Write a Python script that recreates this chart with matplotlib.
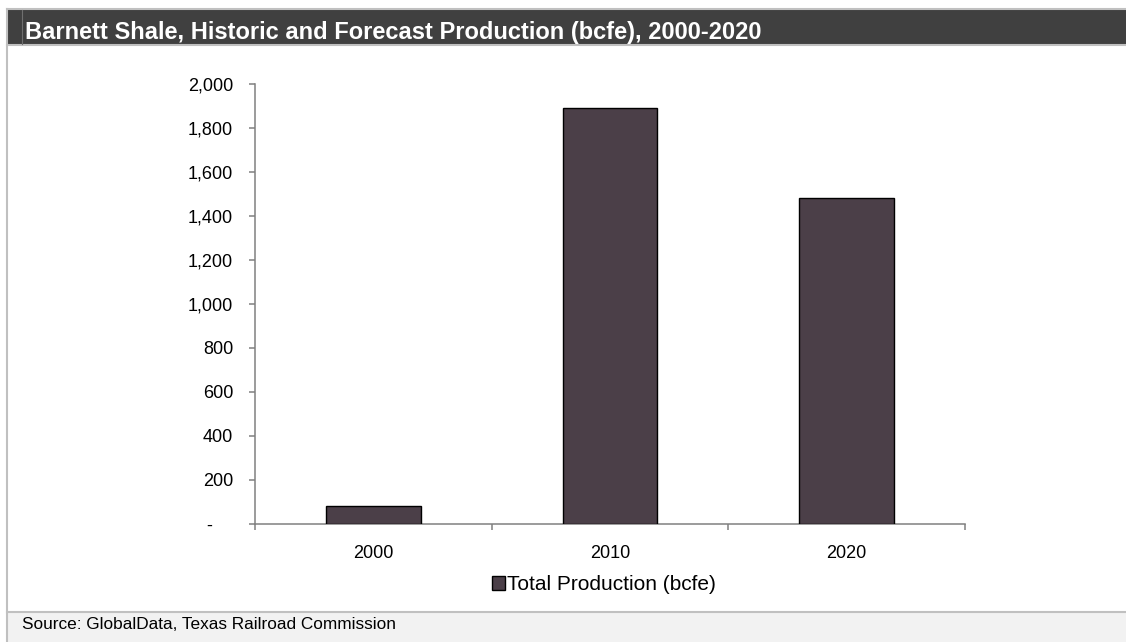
import matplotlib
matplotlib.use("Agg")
import matplotlib.pyplot as plt
import matplotlib.transforms as mtransforms
from matplotlib.patches import Rectangle
from matplotlib.lines import Line2D
from matplotlib.ticker import FuncFormatter, FixedLocator

categories = ["2000", "2010", "2020"]
values = [80, 1890, 1480]
series_name = "Total Production (bcfe)"
title = "Barnett Shale, Historic and Forecast Production (bcfe), 2000-2020"
source = "Source: GlobalData, Texas Railroad Commission"
yticks = [0, 200, 400, 600, 800, 1000, 1200, 1400, 1600, 1800, 2000]

W, H = 1126, 642
plt.rcParams['font.family'] = ['Liberation Sans', 'DejaVu Sans']
fig = plt.figure(figsize=(W / 100, H / 100), dpi=100)

def fx(x):
    return x / W

def fy(y):
    return 1 - y / H

# frame decorations
fig.add_artist(Rectangle((fx(7), fy(44)), fx(W - 7), fy(9) - fy(44),
                         transform=fig.transFigure, facecolor='#404040',
                         edgecolor='none', zorder=1))
fig.add_artist(Line2D([fx(7), 1], [fy(9), fy(9)], transform=fig.transFigure,
                      color='#c0c0c0', lw=1.5, zorder=2))
fig.add_artist(Line2D([fx(7), 1], [fy(44.5), fy(44.5)], transform=fig.transFigure,
                      color='#c0c0c0', lw=1.5, zorder=2))
fig.add_artist(Line2D([fx(22), fx(22)], [fy(10), fy(44)], transform=fig.transFigure,
                      color='#707070', lw=0.8, zorder=2))
fig.add_artist(Rectangle((fx(7), 0), fx(W - 7), fy(612.5), transform=fig.transFigure,
                         facecolor='#f2f2f2', edgecolor='none', zorder=1))
fig.add_artist(Line2D([fx(7), 1], [fy(612), fy(612)], transform=fig.transFigure,
                      color='#c0c0c0', lw=1.5, zorder=2))
fig.add_artist(Line2D([fx(7.5), fx(7.5)], [fy(9), 0], transform=fig.transFigure,
                      color='#c0c0c0', lw=1.5, zorder=2))

fig.text(fx(25), fy(39.5), title, color='white', fontsize=17, fontweight='bold',
         va='baseline', ha='left', zorder=3)
fig.text(fx(22), fy(629), source, color='black', fontsize=12.4,
         va='baseline', ha='left', zorder=3)

# axes
ax = fig.add_axes([fx(255), fy(524), fx(965) - fx(255), fy(84) - fy(524)])
ax.set_facecolor('none')
x = list(range(len(categories)))
bars = ax.bar(x, values, width=0.40, color='#4b3f48', edgecolor='black',
              linewidth=1.0, label=series_name, zorder=3)
ax.set_xlim(-0.5, len(categories) - 0.5)
ax.set_ylim(0, 2000)

for s in ['top', 'right']:
    ax.spines[s].set_visible(False)
for s in ['left', 'bottom']:
    ax.spines[s].set_color('#808080')
    ax.spines[s].set_linewidth(1.1)

ax.set_yticks(yticks)
ax.yaxis.set_major_formatter(FuncFormatter(lambda v, p: '-' if v == 0 else f"{int(v):,}"))
ax.tick_params(axis='y', direction='out', length=4.3, width=1.1, color='#808080',
               labelsize=13, pad=11.5)

ax.xaxis.set_major_locator(FixedLocator([-0.5, 0.5, 1.5, 2.5]))
ax.xaxis.set_minor_locator(FixedLocator(x))
ax.set_xticklabels([], minor=False)
ax.set_xticklabels(categories, minor=True)
ax.tick_params(axis='x', which='major', direction='out', length=4, width=1.1,
               color='#808080')
ax.tick_params(axis='x', which='minor', length=0, labelsize=13, pad=15)

fig.canvas.draw()
# shift the zero label left (accounting style)
for lab in ax.get_yticklabels():
    if lab.get_text() == '-':
        lab.set_transform(lab.get_transform() + mtransforms.ScaledTranslation(-21 / 100, 0, fig.dpi_scale_trans))

leg = fig.legend(handles=[bars], labels=[series_name], loc='center',
                 bbox_to_anchor=(fx(604), fy(585)), frameon=False, fontsize=15,
                 handlelength=0.62, handleheight=0.62, handletextpad=0.12,
                 borderpad=0)

fig.savefig('out.png', dpi=100)
